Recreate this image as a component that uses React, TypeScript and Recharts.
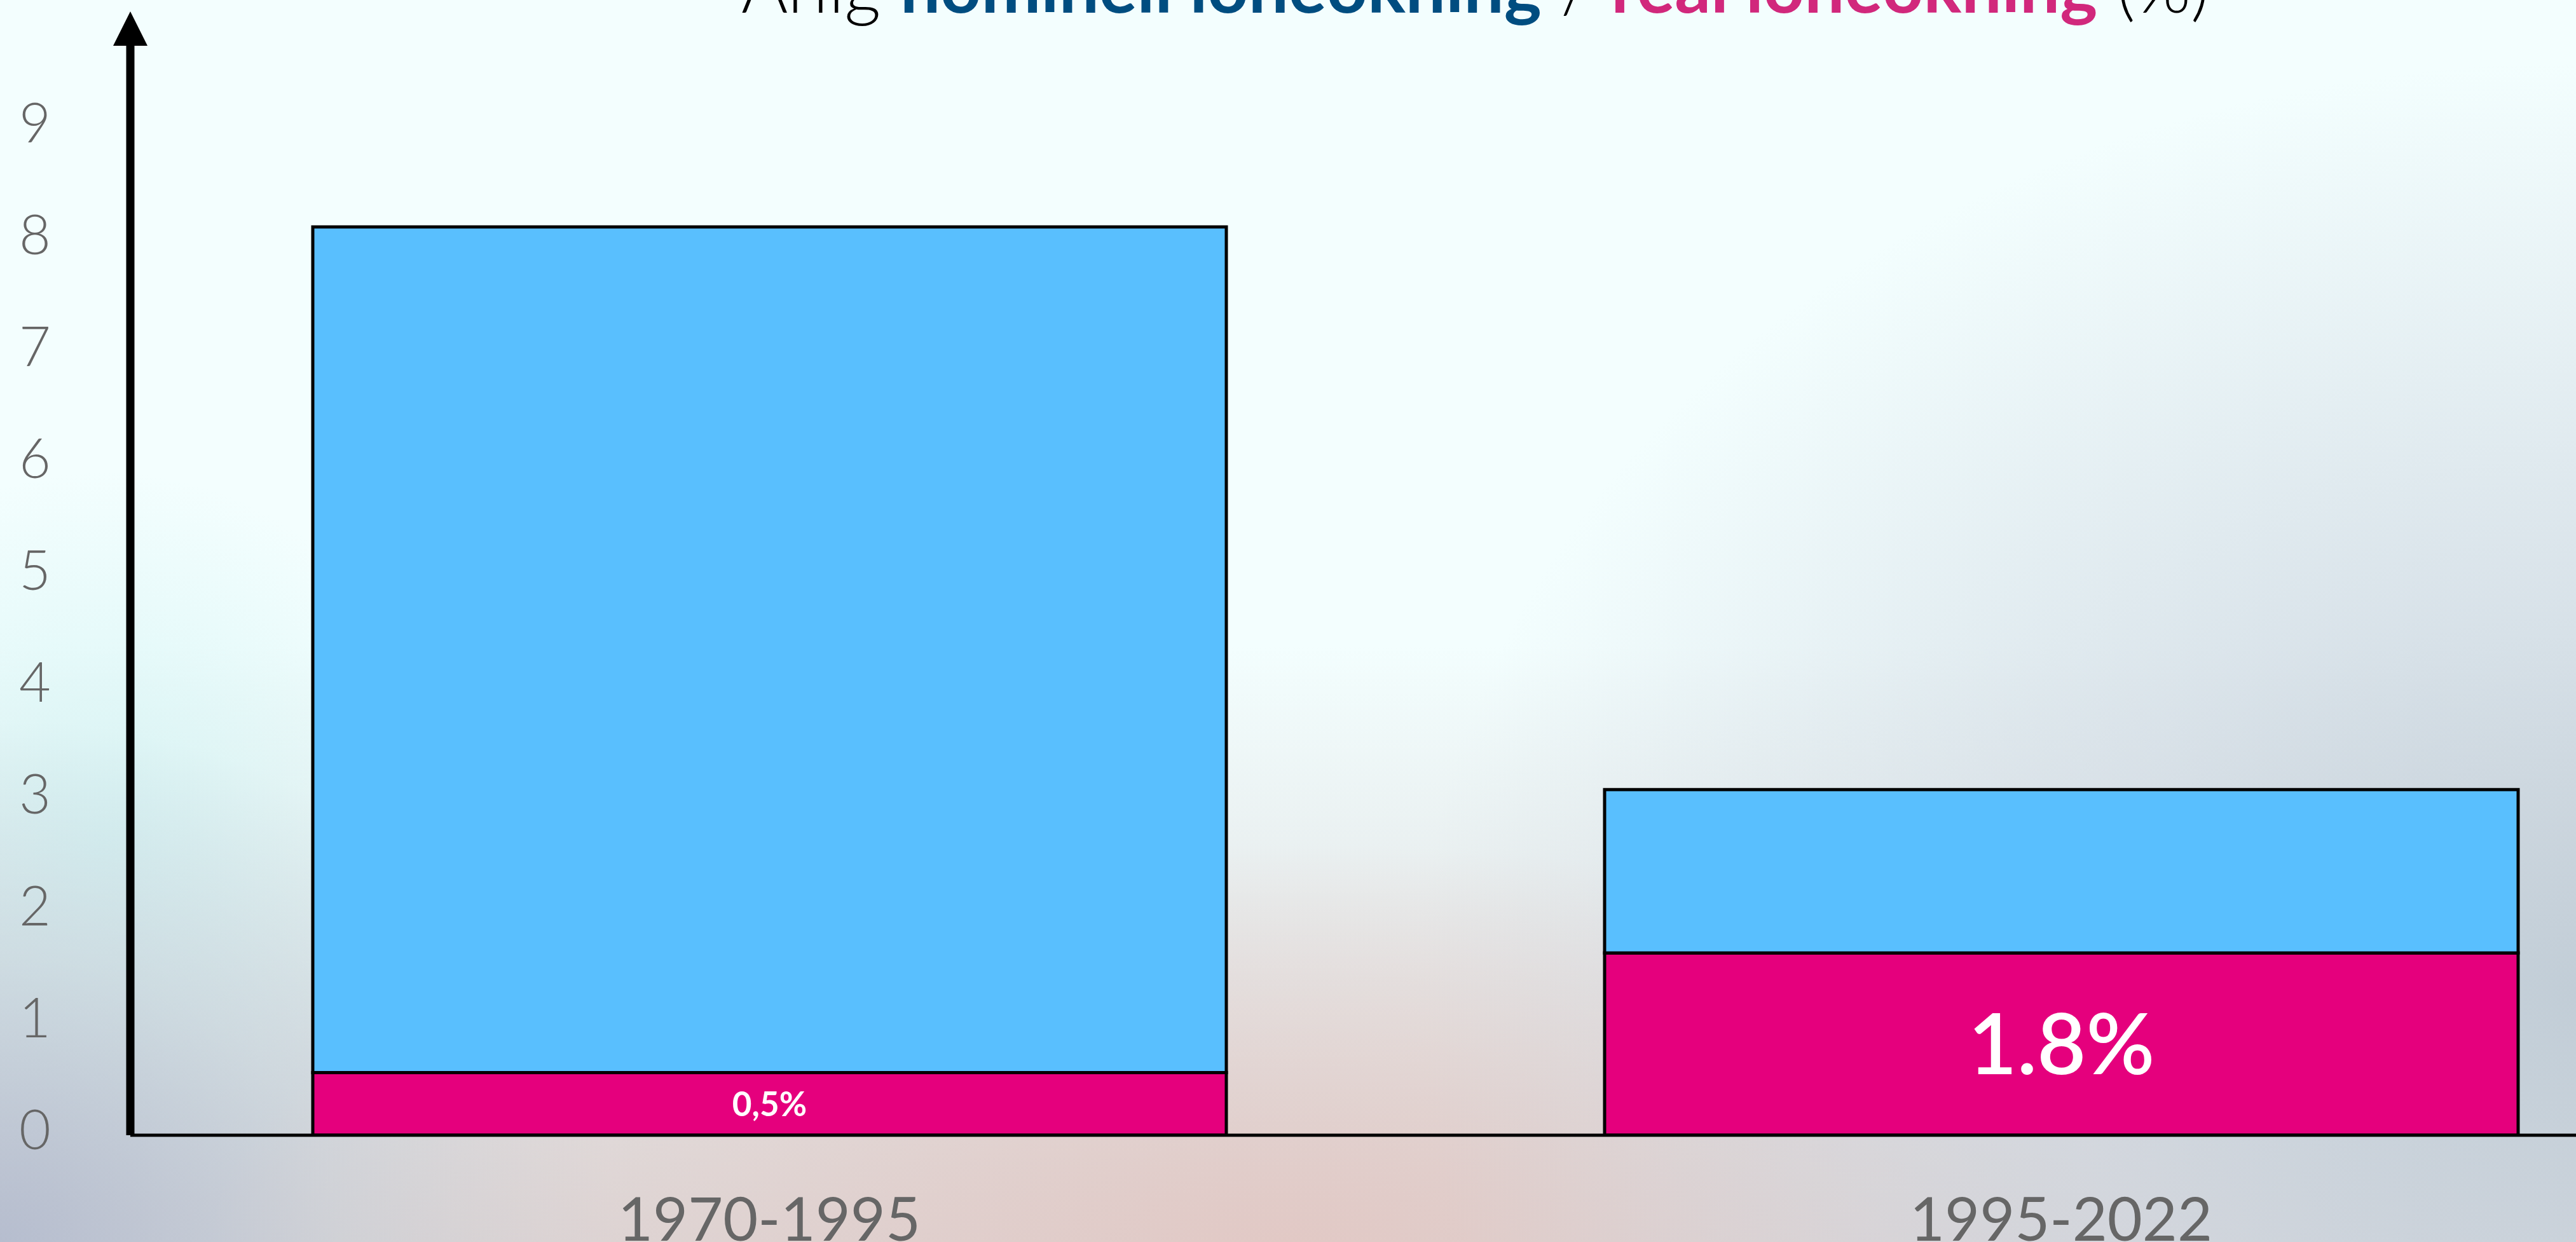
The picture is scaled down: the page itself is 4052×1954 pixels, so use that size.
import { BarChart, Bar, XAxis, YAxis, Rectangle } from 'recharts';

const periods = ['1970-1995', '1995-2022'];
const nominalIncrease = [8.12, 3.09];
const realIncrease = [0.56, 1.63];
const realLabels = ['0,5%', '1.8%'];
const yTicks = [0, 1, 2, 3, 4, 5, 6, 7, 8, 9];

const data = periods.map((period, i) => ({
  period,
  real: realIncrease[i],
  rest: +(nominalIncrease[i] - realIncrease[i]).toFixed(2),
}));

const FONT = 'Lato, "Noto Sans", sans-serif';
const BLUE = '#59BFFE';
const PINK = '#E5007D';

const background = [
  'radial-gradient(ellipse 45% 75% at 100% 80%, rgba(192,204,214,0.95) 0%, rgba(205,214,224,0.65) 45%, rgba(235,238,248,0) 100%)',
  'radial-gradient(ellipse 42% 32% at 50% 100%, rgba(226,200,196,0.95) 0%, rgba(228,208,204,0.55) 55%, rgba(240,230,230,0) 100%)',
  'radial-gradient(ellipse 24% 42% at 0% 100%, rgba(180,188,206,0.95) 0%, rgba(195,205,215,0.55) 55%, rgba(210,220,225,0) 100%)',
  'radial-gradient(ellipse 14% 30% at 4% 68%, rgba(212,244,244,0.9) 0%, rgba(220,246,246,0) 100%)',
  'linear-gradient(to bottom, #F3FEFE 0%, #F3FEFE 52%, #D8D6D8 100%)',
].join(', ');

function YTick(props: any) {
  const { y, payload } = props;
  return (
    <text x={55} y={y - 9} dy="0.36em" textAnchor="middle" fill="#666" fontSize={86} fontWeight={300} fontFamily={FONT}>
      {payload.value}
    </text>
  );
}

function XTick(props: any) {
  const { x, y, payload } = props;
  return (
    <text x={x} y={y + 158} textAnchor="middle" fill="#666" fontSize={95} fontWeight={400} fontFamily={FONT}>
      {payload.value}
    </text>
  );
}

function RealShape(props: any) {
  const { x, y, width, height, index } = props;
  const big = index === 1;
  return (
    <g>
      <Rectangle {...props} />
      <text
        x={x + width / 2}
        y={y + height / 2}
        dy="0.36em"
        textAnchor="middle"
        fill="#fff"
        fontSize={big ? 133 : 53}
        fontWeight={big ? 600 : 700}
        fontFamily={FONT}
      >
        {realLabels[index]}
      </text>
    </g>
  );
}

export default function App() {
  return (
    <div
      style={{
        position: 'fixed',
        left: 0,
        top: 0,
        width: 4052,
        height: 1954,
        overflow: 'hidden',
        background,
      }}
    >
      <BarChart
        width={4258}
        height={1954}
        data={data}
        margin={{ top: 72, right: 0, bottom: 0, left: 0 }}
        barSize={1437}
      >
        <XAxis
          dataKey="period"
          height={168}
          padding={{ left: -11, right: 0 }}
          axisLine={{ stroke: '#000', strokeWidth: 5 }}
          tickLine={false}
          tick={<XTick />}
        />
        <YAxis
          width={205}
          domain={[0, 9.74]}
          ticks={yTicks}
          allowDataOverflow
          axisLine={{ stroke: '#000', strokeWidth: 13 }}
          tickLine={false}
          tick={<YTick />}
        />
        <Bar dataKey="real" stackId="a" fill={PINK} stroke="#000" strokeWidth={5} shape={<RealShape />} isAnimationActive={false} />
        <Bar dataKey="rest" stackId="a" fill={BLUE} stroke="#000" strokeWidth={5} isAnimationActive={false} />
      </BarChart>
      <svg width={4052} height={1954} style={{ position: 'absolute', left: 0, top: 0, pointerEvents: 'none' }}>
        <polygon points="178,72 232,72 205,18" fill="#000" />
        <text x={1166} y={20} fontSize={112} fontFamily={FONT} fill="#000">
          <tspan fontWeight={300}>Årlig </tspan>
          <tspan fill="#004D80" fontWeight={700}>nominell löneökning</tspan>
          <tspan fontWeight={300}> / </tspan>
          <tspan fill="#D1287C" fontWeight={700}>real löneökning</tspan>
          <tspan fontWeight={300}> (%)</tspan>
        </text>
      </svg>
    </div>
  );
}
